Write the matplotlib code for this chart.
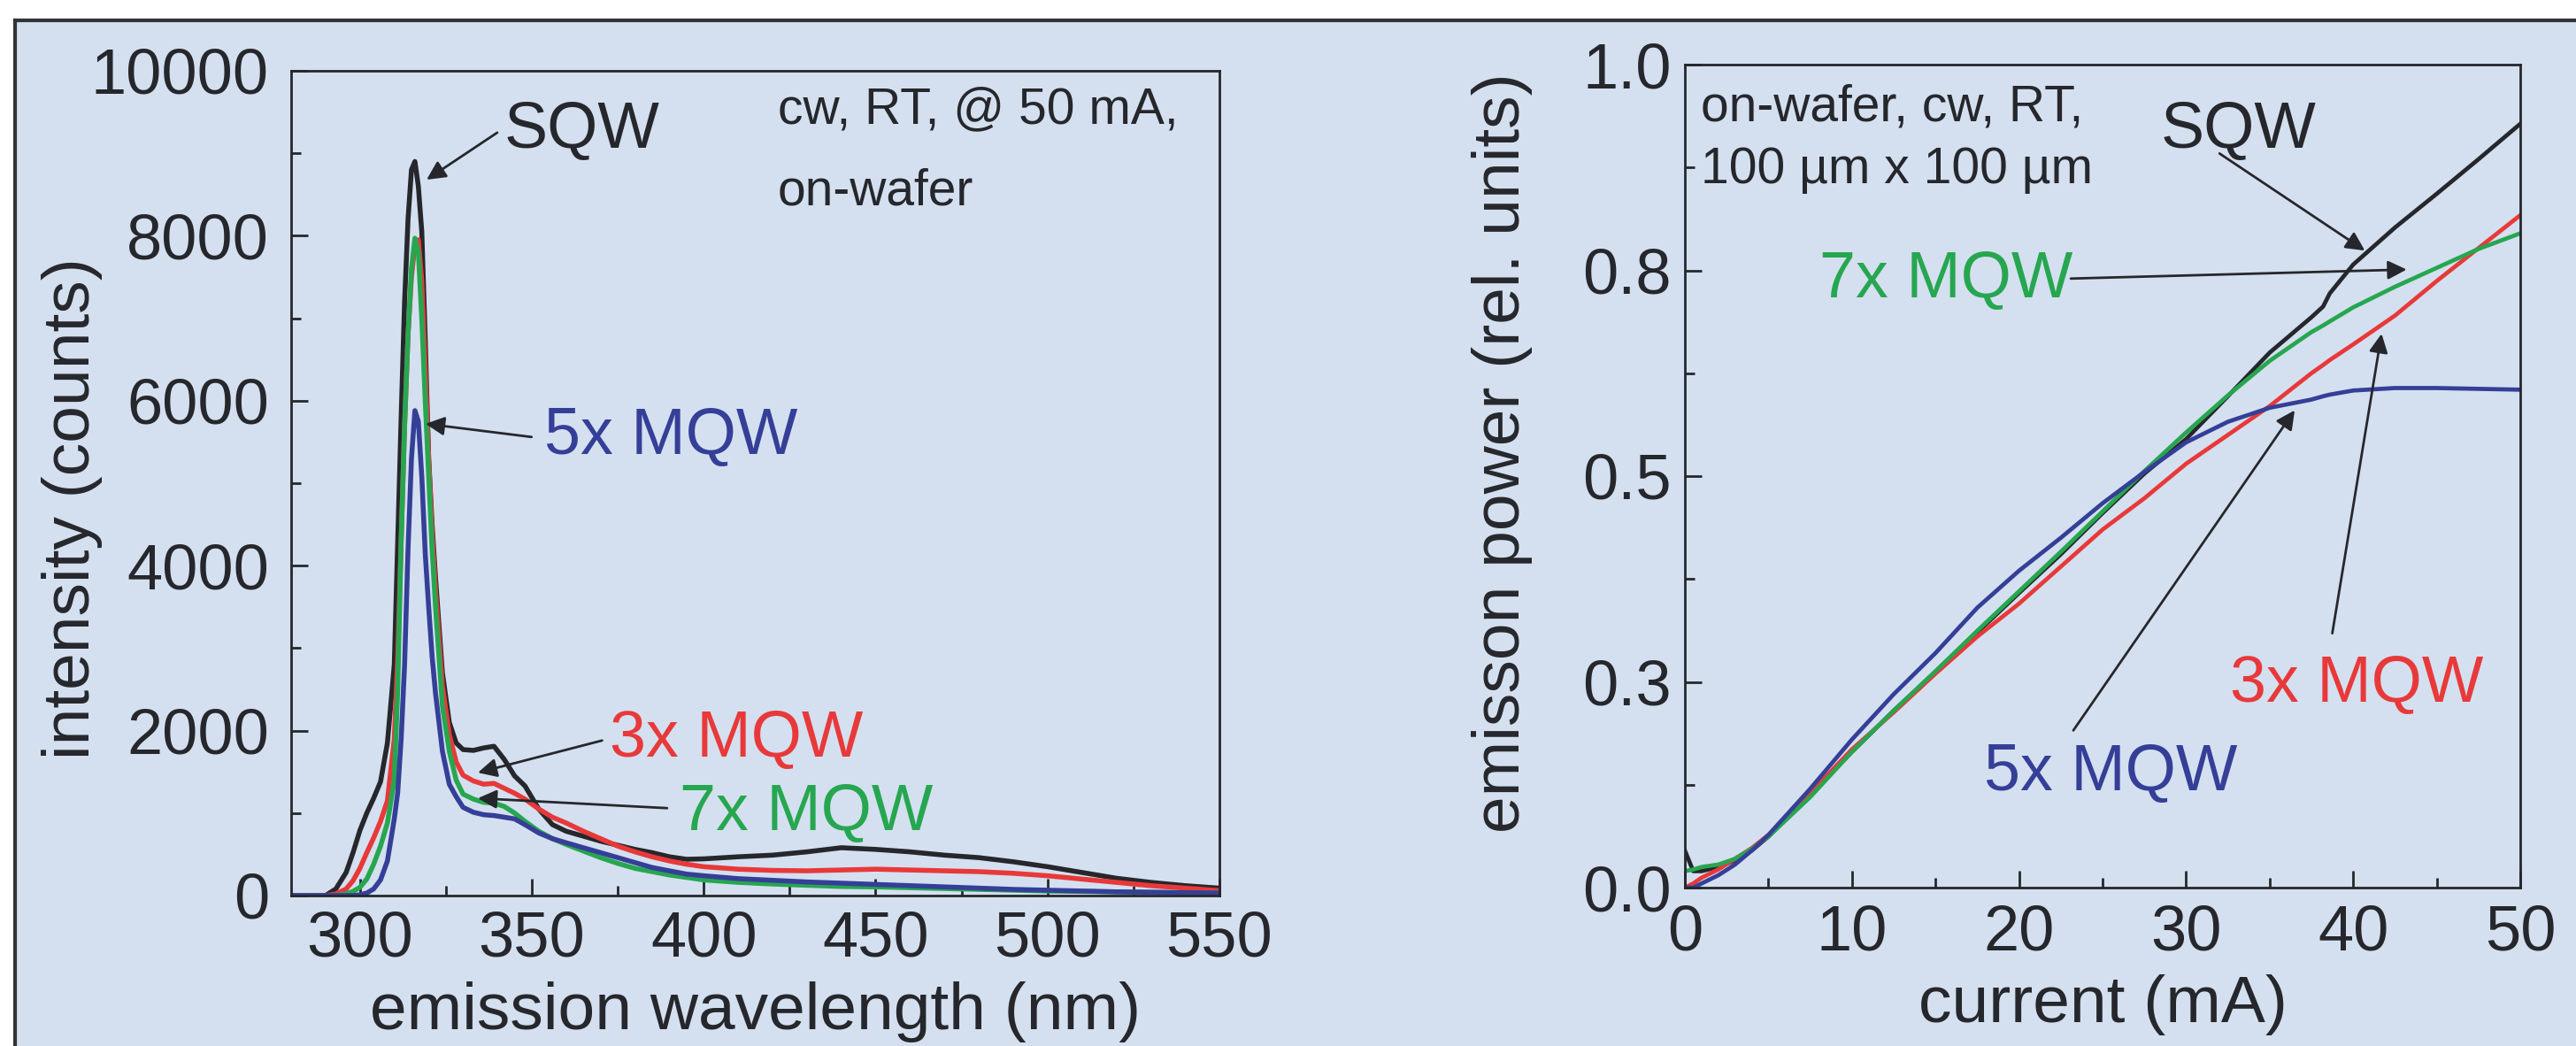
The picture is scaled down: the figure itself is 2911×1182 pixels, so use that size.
import matplotlib.pyplot as plt
from matplotlib.lines import Line2D
from matplotlib.patches import Rectangle
from matplotlib.ticker import MultipleLocator, FixedLocator

plt.rcParams["font.family"] = ["Liberation Sans", "DejaVu Sans"]

# --- left panel: emission spectra, cw, RT, 50 mA ---
wavelength = [280, 290, 293, 296, 298, 300, 302, 304, 306, 308,
              310, 311, 312, 313, 314, 315, 316, 317, 318, 319,
              320, 321, 322, 324, 326, 328, 330, 333, 336, 339,
              342, 345, 348, 352, 356, 360, 365, 370, 375, 380,
              385, 390, 395, 400, 410, 420, 430, 440, 450, 460,
              470, 480, 490, 500, 510, 520, 530, 540, 550]
spec_sqw = [0, 0, 80, 280, 520, 790, 1000, 1180, 1380, 1850,
            2800, 4300, 5800, 7200, 8200, 8800, 8900, 8600, 8050, 6750,
            5300, 4500, 3850, 2700, 2100, 1850, 1770, 1760, 1790, 1810,
            1650, 1450, 1330, 1050, 860, 780, 720, 660, 610, 560,
            520, 470, 440, 445, 470, 490, 530, 580, 560, 530,
            490, 460, 410, 350, 280, 210, 160, 120, 90]
spec_3x = [0, 0, 20, 80, 180, 330, 520, 700, 900, 1150,
           1900, 2900, 4300, 5700, 6800, 7500, 7900, 7950, 7450, 6400,
           5300, 4400, 3700, 2550, 1950, 1620, 1460, 1390, 1350, 1360,
           1300, 1240, 1170, 1050, 950, 880, 780, 690, 600, 530,
           470, 420, 380, 350, 320, 305, 300, 310, 320, 310,
           300, 290, 270, 240, 200, 160, 120, 90, 60]
spec_7x = [0, 0, 0, 20, 50, 100, 200, 380, 600, 880,
           1400, 2500, 4300, 5700, 6800, 7600, 7970, 7800, 7000, 6000,
           5100, 4200, 3500, 2300, 1750, 1400, 1230, 1170, 1130, 1120,
           1080, 1000, 900, 780, 690, 620, 540, 460, 390, 330,
           290, 250, 220, 190, 160, 140, 125, 110, 105, 95,
           85, 75, 65, 55, 50, 45, 40, 35, 30]
spec_5x = [0, 0, 0, 0, 0, 10, 30, 80, 190, 420,
           930, 1250, 1900, 2800, 4200, 5300, 5880, 5750, 5080, 4150,
           3500, 2900, 2450, 1750, 1350, 1200, 1070, 1010, 980, 970,
           950, 930, 860, 760, 690, 640, 580, 520, 460, 400,
           340, 300, 260, 240, 205, 185, 165, 150, 135, 120,
           105, 90, 75, 65, 55, 45, 40, 35, 30]

# --- right panel: L-I curves, on-wafer ---
current = [0, 0.5, 1, 2, 3, 4, 5, 7.5, 10, 12.5, 15, 17.5, 20, 22.5,
           25, 27.5, 30, 32.5, 35, 37.5, 38.2, 38.6, 40, 42.5, 45, 47.5, 50]
power_sqw = [0.045, 0.02, 0.02, 0.025, 0.033, 0.045, 0.062, 0.113, 0.165,
             0.215, 0.262, 0.31, 0.358, 0.405, 0.455, 0.503, 0.545, 0.597,
             0.65, 0.693, 0.706, 0.722, 0.757, 0.802, 0.843, 0.885, 0.928]
power_3x = [0.0, 0.005, 0.012, 0.022, 0.035, 0.048, 0.064, 0.115, 0.168,
            0.213, 0.26, 0.305, 0.345, 0.39, 0.435, 0.473, 0.515, 0.55,
            0.585, 0.625, 0.635, 0.641, 0.66, 0.695, 0.737, 0.777, 0.817]
power_5x = [0.0, 0.0, 0.005, 0.015, 0.028, 0.045, 0.064, 0.12, 0.18,
            0.235, 0.285, 0.34, 0.385, 0.425, 0.467, 0.505, 0.541, 0.566,
            0.583, 0.593, 0.597, 0.599, 0.604, 0.607, 0.607, 0.606, 0.605]
power_7x = [0.02, 0.022, 0.025, 0.028, 0.035, 0.047, 0.062, 0.11, 0.165,
            0.215, 0.263, 0.312, 0.36, 0.408, 0.457, 0.506, 0.553, 0.598,
            0.64, 0.675, 0.683, 0.688, 0.705, 0.73, 0.753, 0.776, 0.795]

power_ticks = [0.0, 0.25, 0.5, 0.75, 1.0]
power_ticklabels = ["0.0", "0.3", "0.5", "0.8", "1.0"]

BG = "#d4e0ef"
INK = "#26272c"
RED = "#e8393a"
GREEN = "#27a650"
BLUE = "#353f98"

TICK_FS = 52
LABEL_FS = 54
NOTE_FS = 53
SMALL_FS = 41


def style_axes(ax):
    ax.set_facecolor("none")
    for sp in ax.spines.values():
        sp.set_linewidth(2.0)
        sp.set_color(INK)
    ax.tick_params(which="both", direction="in", top=False, right=False,
                   colors=INK, width=2.0, labelsize=TICK_FS)
    ax.tick_params(which="major", length=14)
    ax.tick_params(which="minor", length=8)


def arrow(ax, tip, start):
    ax.annotate("", xy=tip, xycoords="data", xytext=start,
                textcoords="axes fraction",
                arrowprops=dict(arrowstyle="-|>", color=INK, lw=2.0,
                                mutation_scale=32, shrinkA=0, shrinkB=0))


fig = plt.figure(figsize=(29.11, 11.82), dpi=100)
fig.patch.set_facecolor("white")

# light blue panel with dark top/left border
fig.patches.append(Rectangle((17 / 2911, 0), 1, (1182 - 23) / 1182,
                             transform=fig.transFigure, facecolor=BG,
                             edgecolor="none", zorder=-10))
fig.lines.append(Line2D([17 / 2911, 1], [1 - 23 / 1182] * 2,
                        transform=fig.transFigure, color="#333338", lw=3))
fig.lines.append(Line2D([17 / 2911] * 2, [0, 1 - 23 / 1182],
                        transform=fig.transFigure, color="#333338", lw=3))

# ---------------- left: spectra ----------------
ax1 = fig.add_axes([329 / 2911, 170 / 1182, 1049 / 2911, 932 / 1182])
style_axes(ax1)
ax1.plot(wavelength, spec_sqw, color=INK, lw=4.0)
ax1.plot(wavelength, spec_3x, color=RED, lw=4.0)
ax1.plot(wavelength, spec_7x, color=GREEN, lw=4.0)
ax1.plot(wavelength, spec_5x, color=BLUE, lw=4.0)
ax1.set_xlim(280, 550)
ax1.set_ylim(0, 10000)
ax1.xaxis.set_major_locator(MultipleLocator(50))
ax1.xaxis.set_minor_locator(MultipleLocator(25))
ax1.yaxis.set_major_locator(MultipleLocator(2000))
ax1.yaxis.set_minor_locator(MultipleLocator(1000))
ax1.tick_params(axis="y", pad=18)
ax1.tick_params(axis="x", pad=12)
ax1.set_xlabel("emission wavelength (nm)", fontsize=LABEL_FS, color=INK,
               va="center")
ax1.xaxis.set_label_coords(0.5, -0.141)
ax1.set_ylabel("intensity (counts)", fontsize=LABEL_FS, color=INK,
               va="center")
ax1.yaxis.set_label_coords(-0.236, 0.469)

ax1.text(0.524, 0.953, "cw, RT, @ 50 mA,", transform=ax1.transAxes,
         fontsize=SMALL_FS, color=INK, va="center")
ax1.text(0.524, 0.854, "on-wafer", transform=ax1.transAxes,
         fontsize=SMALL_FS, color=INK, va="center")
ax1.text(0.229, 0.928, "SQW", transform=ax1.transAxes, fontsize=NOTE_FS,
         color=INK, va="center")
arrow(ax1, (319.4, 8680), (0.222, 0.925))
ax1.text(0.273, 0.556, "5x MQW", transform=ax1.transAxes, fontsize=NOTE_FS,
         color=BLUE, va="center")
arrow(ax1, (319.1, 5720), (0.259, 0.556))
ax1.text(0.343, 0.189, "3x MQW", transform=ax1.transAxes, fontsize=NOTE_FS,
         color=RED, va="center")
arrow(ax1, (334.3, 1490), (0.335, 0.188))
ax1.text(0.4185, 0.100, "7x MQW", transform=ax1.transAxes, fontsize=NOTE_FS,
         color=GREEN, va="center")
arrow(ax1, (334.3, 1180), (0.405, 0.106))

# ---------------- right: L-I ----------------
ax2 = fig.add_axes([1904 / 2911, 179 / 1182, 944 / 2911, 930 / 1182])
style_axes(ax2)
ax2.plot(current, power_sqw, color=INK, lw=3.4)
ax2.plot(current, power_3x, color=RED, lw=3.4)
ax2.plot(current, power_7x, color=GREEN, lw=3.4)
ax2.plot(current, power_5x, color=BLUE, lw=3.4)
ax2.set_xlim(0, 50)
ax2.set_ylim(0, 1)
ax2.xaxis.set_major_locator(MultipleLocator(10))
ax2.xaxis.set_minor_locator(MultipleLocator(5))
ax2.yaxis.set_major_locator(FixedLocator(power_ticks))
ax2.yaxis.set_minor_locator(MultipleLocator(0.125))
ax2.set_yticklabels(power_ticklabels)
ax2.tick_params(axis="y", pad=11)
ax2.tick_params(axis="x", pad=13)
ax2.set_xlabel("current (mA)", fontsize=LABEL_FS, color=INK, va="center")
ax2.xaxis.set_label_coords(0.5, -0.142)
ax2.set_ylabel("emisson power (rel. units)", fontsize=LABEL_FS, color=INK,
               va="center")
ax2.yaxis.set_label_coords(-0.219, 0.528)

ax2.text(0.019, 0.948, "on-wafer, cw, RT,", transform=ax2.transAxes,
         fontsize=SMALL_FS, color=INK, va="center")
ax2.text(0.019, 0.872, "100 \u00b5m x 100 \u00b5m", transform=ax2.transAxes,
         fontsize=SMALL_FS, color=INK, va="center")
ax2.text(0.570, 0.920, "SQW", transform=ax2.transAxes, fontsize=NOTE_FS,
         color=INK, va="center")
arrow(ax2, (40.7, 0.774), (0.640, 0.892))
ax2.text(0.161, 0.738, "7x MQW", transform=ax2.transAxes, fontsize=NOTE_FS,
         color=GREEN, va="center")
arrow(ax2, (43.2, 0.751), (0.462, 0.740))
ax2.text(0.6525, 0.247, "3x MQW", transform=ax2.transAxes, fontsize=NOTE_FS,
         color=RED, va="center")
arrow(ax2, (41.7, 0.673), (0.775, 0.309))
ax2.text(0.358, 0.139, "5x MQW", transform=ax2.transAxes, fontsize=NOTE_FS,
         color=BLUE, va="center")
arrow(ax2, (36.5, 0.58), (0.465, 0.191))

fig.savefig("out.png", dpi=100, facecolor=fig.get_facecolor())
